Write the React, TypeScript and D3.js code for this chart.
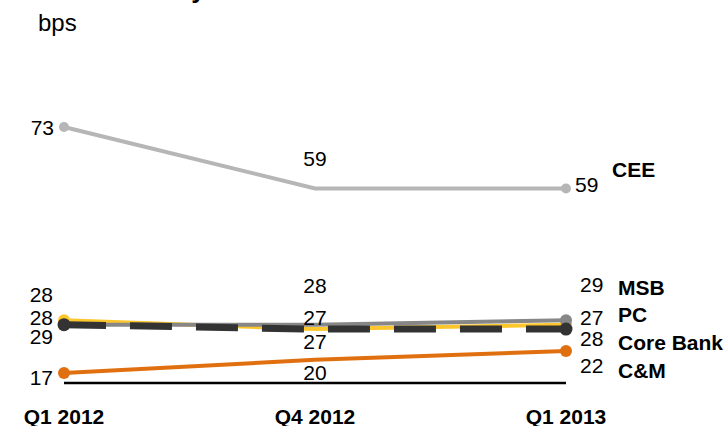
import * as d3 from "d3";

const quarters = ["Q1 2012", "Q4 2012", "Q1 2013"];
const series = ["CEE", "MSB", "PC", "Core Bank", "C&M"];
const cee = [73, 59, 59];
const msb = [28, 28, 29];
const pc = [28, 27, 27];
const coreBank = [29, 27, 28];
const cm = [17, 20, 22];

const W = 728;
const H = 426;
const FONT = "Liberation Sans, Arial, sans-serif";

// stacked label rows (y centres) per column, for MSB, PC, Core Bank, C&M
const rowsLeft = [294, 317, 336, 377];
const rowsMid = [285, 317, 341, 372];
const rowsRight = [284, 317, 338, 365];
const rowsNames = [287, 314, 342, 370];

export default function App() {
  const x = d3.scalePoint<string>().domain(quarters).range([64, 566]);
  const y = d3.scaleLinear().domain([17, 73]).range([373, 127]);

  const line = d3
    .line<number>()
    .x((_, i) => x(quarters[i])!)
    .y((d) => y(d));

  const first = quarters[0];
  const last = quarters[quarters.length - 1];
  const lastI = quarters.length - 1;

  const stacked = [msb, pc, coreBank, cm];
  const base = (c: number) => c + 7.5; // centre -> baseline for 21px text

  const lines = [
    { data: cee, color: "#b6b6b6", width: 4, dash: undefined, r: 5 },
    { data: coreBank, color: "#fcc62c", width: 4, dash: undefined, r: 6 },
    { data: msb, color: "#878787", width: 4, dash: undefined, r: 6 },
    { data: pc, color: "#333333", width: 7, dash: "42 24", r: 6.5 },
    { data: cm, color: "#e0700f", width: 4, dash: undefined, r: 6 },
  ];

  return (
    <svg
      width={W}
      height={H}
      style={{ position: "absolute", left: 0, top: 0, background: "#fff" }}
      fontFamily={FONT}
    >
      <text x={38} y={-2} fontSize={26} fontWeight="bold" fill="#000">
        Risk costs by division
      </text>
      <text x={38} y={31} fontSize={24} fill="#000">
        bps
      </text>

      <line x1={x(first)} x2={x(last)} y1={383} y2={383} stroke="#000" strokeWidth={2.5} />

      {lines.map((s, k) => (
        <g key={k}>
          <path
            d={line(s.data) ?? ""}
            fill="none"
            stroke={s.color}
            strokeWidth={s.width}
            strokeDasharray={s.dash}
          />
          <circle cx={x(first)} cy={y(s.data[0])} r={s.r} fill={s.color} />
          <circle cx={x(last)} cy={y(s.data[lastI])} r={s.r} fill={s.color} />
        </g>
      ))}

      <g fontSize={21} fill="#000">
        <text x={x(first)! - 10} y={base(y(cee[0]))} textAnchor="end">
          {cee[0]}
        </text>
        <text x={x(quarters[1])} y={base(158)} textAnchor="middle">
          {cee[1]}
        </text>
        <text x={x(last)! + 9} y={base(y(cee[lastI]) - 4)}>
          {cee[lastI]}
        </text>
        {stacked.map((d, i) => (
          <g key={i}>
            <text x={x(first)! - 11} y={base(rowsLeft[i])} textAnchor="end">
              {d[0]}
            </text>
            <text x={x(quarters[1])} y={base(rowsMid[i])} textAnchor="middle">
              {d[1]}
            </text>
            <text x={x(last)! + 14} y={base(rowsRight[i])}>
              {d[lastI]}
            </text>
          </g>
        ))}
      </g>

      <g fontSize={21} fontWeight="bold" fill="#000">
        <text x={612} y={base(169)}>
          {series[0]}
        </text>
        {series.slice(1).map((name, i) => (
          <text key={name} x={618} y={base(rowsNames[i])}>
            {name}
          </text>
        ))}
        {quarters.map((q) => (
          <text key={q} x={x(q)} y={424} textAnchor="middle">
            {q}
          </text>
        ))}
      </g>
    </svg>
  );
}
